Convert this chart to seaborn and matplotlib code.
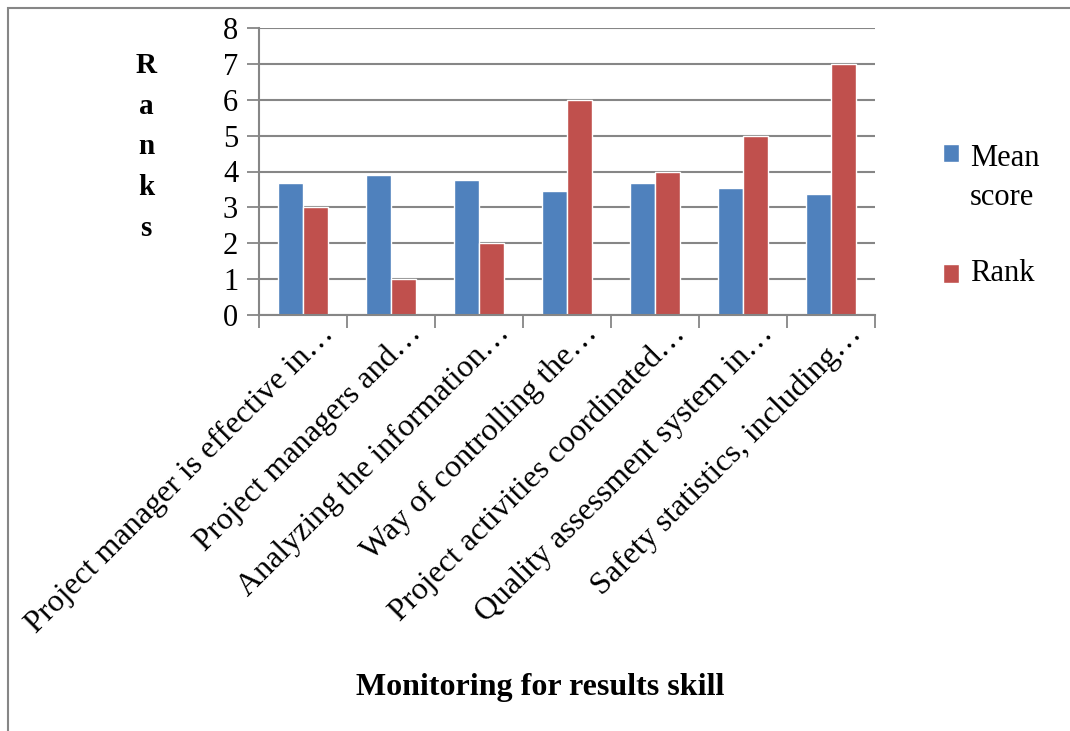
import matplotlib
matplotlib.use("Agg")
import matplotlib.pyplot as plt
from matplotlib.patches import Rectangle
from matplotlib.transforms import ScaledTranslation
import numpy as np
import pandas as pd
import seaborn as sns

# Monitoring-for-results skill items (labels truncated as in the survey table)
categories = [
    "Project manager is effective in\u2026",
    "Project managers and\u2026",
    "Analyzing the information\u2026",
    "Way of controlling the\u2026",
    "Project activities coordinated\u2026",
    "Quality assessment system in\u2026",
    "Safety statistics, including\u2026",
]
mean_score = [3.69, 3.91, 3.75, 3.46, 3.67, 3.53, 3.38]
rank = [3, 1, 2, 6, 4, 5, 7]
series_names = ["Mean\nscore", "Rank"]
y_ticks = [0, 1, 2, 3, 4, 5, 6, 7, 8]

df = pd.DataFrame({
    "item": categories * 2,
    "series": [series_names[0]] * len(categories) + [series_names[1]] * len(categories),
    "value": mean_score + rank,
})

sns.set_theme(style="white")
plt.rcParams["font.family"] = ["Liberation Serif", "DejaVu Serif"]
plt.rcParams["text.color"] = "black"
plt.rcParams["xtick.color"] = "black"
plt.rcParams["ytick.color"] = "black"

grid_col = "#868686"
fig = plt.figure(figsize=(10.7, 7.31), dpi=100)
ax = fig.add_axes([259 / 1070, 1 - 315 / 731, 616 / 1070, 287 / 731])

sns.barplot(
    data=df, x="item", y="value", hue="series", order=categories,
    hue_order=series_names, palette=["#4F81BD", "#C0504D"],
    width=0.571, saturation=1, ax=ax, legend=True,
)

ax.set_xlim(-0.5, len(categories) - 0.5)
ax.set_ylim(0, 8)
ax.set_yticks(y_ticks)
ax.set_yticklabels([str(t) for t in y_ticks], fontsize=22)
ax.yaxis.grid(True, color=grid_col, linewidth=1.5)
ax.set_axisbelow(True)
ax.tick_params(axis="y", length=9, width=1.3, color=grid_col, labelcolor="black",
               pad=6, left=True)

# category labels at centers, tick marks at category boundaries
ax.set_xticks(range(len(categories)))
ax.set_xticklabels(categories, rotation=45, ha="right", rotation_mode="anchor",
                   fontsize=23, color="black")
ax.tick_params(axis="x", which="major", length=0, pad=3)
shift = ScaledTranslation(16 / 100, 0, fig.dpi_scale_trans)
for lab in ax.get_xticklabels():
    lab.set_transform(lab.get_transform() + shift)
ax.set_xticks(np.arange(-0.5, len(categories), 1.0), minor=True)
ax.tick_params(axis="x", which="minor", length=9, width=1.3, color=grid_col, bottom=True)

for side in ["top", "right"]:
    ax.spines[side].set_visible(False)
for side in ["left", "bottom"]:
    ax.spines[side].set_color(grid_col)
    ax.spines[side].set_linewidth(1.5)

ax.set_xlabel("")
ax.set_ylabel("")

# legend on the right, markers level with the first line of each label
handles, labels = ax.get_legend_handles_labels()
leg = ax.legend(
    handles, labels, loc="center left", bbox_to_anchor=(915 / 1070, 1 - 216 / 731),
    bbox_transform=fig.transFigure, frameon=False, fontsize=22,
    handlelength=0.55, handleheight=0.55, handletextpad=0.35, labelspacing=1.55,
    labelcolor="black",
)
for txt in leg.get_texts():
    txt.set_linespacing(1.45)
for column in leg._legend_handle_box.get_children():
    for entry in column.get_children():
        entry.align = "center"
        handle_box, text_box = entry.get_children()
        if "\n" in text_box._text.get_text():
            entry.align = "top"

# stacked axis title and x-axis title
fig.text(146 / 1070, 1 - 147 / 731, "R\na\nn\nk\ns", ha="center", va="center",
         fontsize=21, fontweight="bold", linespacing=1.66)
fig.text(540 / 1070, 1 - 687 / 731, "Monitoring for results skill", ha="center",
         va="center", fontsize=23, fontweight="bold")

# outer chart frame
fig.patches.append(Rectangle((8 / 1070, -0.05), 1.1, 1 - 8 / 731 + 0.05,
                             transform=fig.transFigure, fill=False,
                             edgecolor=grid_col, linewidth=1.5))

fig.savefig("out.png", dpi=100)
